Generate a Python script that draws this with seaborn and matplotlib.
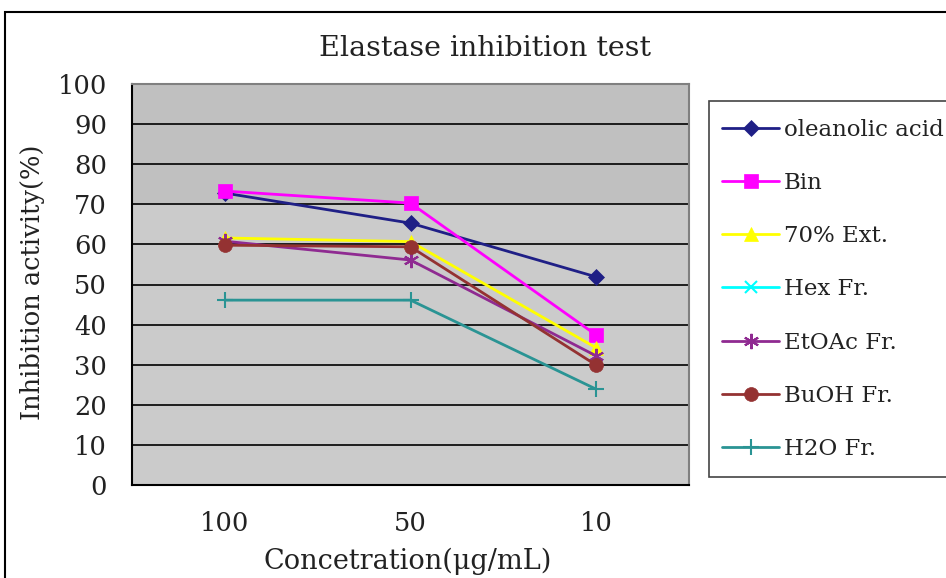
import matplotlib
matplotlib.use("Agg")
import matplotlib.pyplot as plt
import seaborn as sns
import pandas as pd
import numpy as np
from matplotlib.patches import Rectangle

# ---- data ----
concentrations = ["100", "50", "10"]
oleanolic_acid = [72.8, 65.3, 51.9]
bin_vals = [73.3, 70.3, 37.4]
ext70 = [61.6, 60.7, 34.2]
hex_fr = [np.nan, np.nan, np.nan]
etoac_fr = [60.8, 56.1, 32.2]
buoh_fr = [59.8, 59.4, 29.9]
h2o_fr = [46.1, 46.1, 23.9]
series_names = ["oleanolic acid", "Bin", "70% Ext.", "Hex Fr.", "EtOAc Fr.", "BuOH Fr.", "H2O Fr."]
yticks = [0, 10, 20, 30, 40, 50, 60, 70, 80, 90, 100]

values = [oleanolic_acid, bin_vals, ext70, hex_fr, etoac_fr, buoh_fr, h2o_fr]
rows = []
for name, vals in zip(series_names, values):
    for c, v in zip(concentrations, vals):
        rows.append({"conc": c, "value": v, "series": name})
df = pd.DataFrame(rows)
df["xpos"] = df["conc"].map({c: i for i, c in enumerate(concentrations)})

colors = {"oleanolic acid": "#1f1f86", "Bin": "#ff00ff", "70% Ext.": "#ffff00",
          "Hex Fr.": "#00ffff", "EtOAc Fr.": "#8f2a91", "BuOH Fr.": "#943232",
          "H2O Fr.": "#2a9494"}
markers = {"oleanolic acid": "D", "Bin": "s", "70% Ext.": "^", "Hex Fr.": "x",
           "EtOAc Fr.": (6, 2, 0), "BuOH Fr.": "o", "H2O Fr.": "+"}
msizes = {"oleanolic acid": 8, "Bin": 10, "70% Ext.": 10, "Hex Fr.": 9,
          "EtOAc Fr.": 11, "BuOH Fr.": 10, "H2O Fr.": 12}

sns.set_style("white")
plt.rcParams["font.family"] = ["DejaVu Serif", "DejaVu Sans"]

fig = plt.figure(figsize=(9.46, 5.78), dpi=100)
ax = fig.add_axes([132/946, 1-485/578, (689-132)/946, (485-84)/578])

ax.set_facecolor("#cbcbcb")
ax.axhspan(70, 100, color="#c0c0c0", zorder=0, lw=0)

for name in series_names:
    sub = df[df["series"] == name]
    sns.lineplot(data=sub, x="xpos", y="value", ax=ax, color=colors[name],
                 marker=markers[name], markersize=msizes[name],
                 markeredgecolor=colors[name],
                 markeredgewidth=1.5 if name in ("H2O Fr.", "Hex Fr.", "EtOAc Fr.") else 0.5,
                 linewidth=2, label=name, legend=False, zorder=3)

ax.set_xlim(-0.5, 2.5)
ax.set_ylim(0, 100)
ax.set_yticks(yticks)
ax.set_yticklabels([str(t) for t in yticks], fontsize=18.5, color="#222222")
ax.set_xticks(range(len(concentrations)))
ax.set_xticklabels(concentrations, fontsize=18.5, color="#222222")
ax.set_xticks([0.5, 1.5], minor=True)
ax.tick_params(axis="x", which="major", length=0, pad=19)
ax.tick_params(axis="x", which="minor", direction="in", length=6, width=1.2, color="black")
ax.tick_params(axis="y", which="major", direction="out", length=4, width=1.2, color="black", pad=14)
ax.yaxis.grid(True, color="black", linewidth=1.2)
ax.set_axisbelow(True)
for gl in ax.get_ygridlines():
    gl.set_zorder(1)
ax.set_xlabel("Concetration(μg/mL)", fontsize=19.5, color="#222222")
ax.xaxis.set_label_coords(0.495, -(561-485)/401, transform=ax.transAxes)
ax.xaxis.label.set_va("center")
ax.set_ylabel("Inhibition activity(%)", fontsize=18.5, color="#222222")
ax.yaxis.set_label_coords(-(132-33)/557, (485-282)/401, transform=ax.transAxes)
ax.yaxis.label.set_va("center")
ax.spines["left"].set_color("black"); ax.spines["left"].set_linewidth(1.5)
ax.spines["bottom"].set_color("black"); ax.spines["bottom"].set_linewidth(1.5)
ax.spines["top"].set_color("#808080"); ax.spines["top"].set_linewidth(1.5)
ax.spines["right"].set_color("#808080"); ax.spines["right"].set_linewidth(1.5)

fig.text(485/946, 1-48/578, "Elastase inhibition test", ha="center", va="center",
         fontsize=20.5, color="#222222")

# outer chart border
fig.patches.append(Rectangle((5/946, -0.1), 1.2, 1-12/578+0.1, transform=fig.transFigure,
                             fill=False, edgecolor="black", linewidth=1.5))
# legend frame (extends past the right edge as in the reference)
fig.patches.append(Rectangle((709/946, 1-477/578), 0.5, (477-101)/578, transform=fig.transFigure,
                             facecolor="white", edgecolor="#444444", linewidth=1.2, zorder=2))

handles, labels = ax.get_legend_handles_labels()
leg = fig.legend(handles, labels, loc="upper left", bbox_to_anchor=(722/946, 1-119/578),
                 fontsize=16.5, frameon=False, borderpad=0, borderaxespad=0,
                 handlelength=2.5, labelspacing=1.36, handletextpad=0.2)
for t in leg.get_texts():
    t.set_color("#222222")
leg.set_zorder(3)

fig.savefig("out.png", dpi=100)
